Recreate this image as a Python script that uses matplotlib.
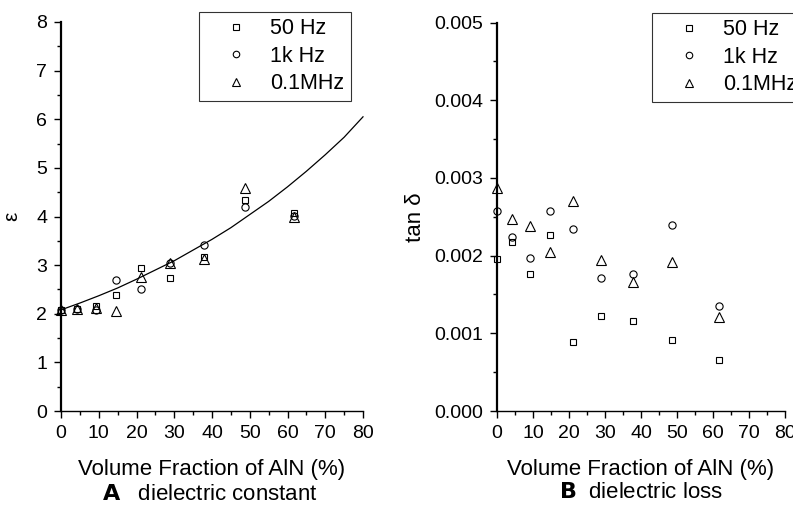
import matplotlib
matplotlib.use("Agg")
import matplotlib.pyplot as plt
from matplotlib.ticker import MultipleLocator, FormatStrFormatter

plt.rcParams['font.family'] = ['Liberation Sans', 'DejaVu Sans']

# Data
vol_frac = [0, 4.3, 9.3, 14.7, 21.2, 28.8, 37.8, 48.7, 61.7]
eps_50hz = [2.07, 2.10, 2.15, 2.39, 2.95, 2.74, 3.16, 4.34, 4.08]
eps_1khz = [2.07, 2.10, 2.07, 2.69, 2.51, 3.05, 3.41, 4.20, 4.01]
eps_01mhz = [2.07, 2.10, 2.12, 2.06, 2.76, 3.05, 3.13, 4.58, 3.98]

fit_x = [0, 5, 10, 15, 20, 25, 30, 35, 40, 45, 50, 55, 60, 65, 70, 75, 80]
fit_y = [2.08, 2.22, 2.37, 2.53, 2.71, 2.90, 3.09, 3.31, 3.53, 3.77, 4.04,
         4.31, 4.61, 4.93, 5.27, 5.63, 6.05]

tan_50hz = [0.00195, 0.00217, 0.00176, 0.00226, 0.00089, 0.00122, 0.00116, 0.00092, 0.00065]
tan_1khz = [0.00258, 0.00224, 0.00197, 0.00258, 0.00234, 0.00171, 0.00176, 0.00240, 0.00135]
tan_01mhz = [0.00287, 0.00247, 0.00238, 0.00205, 0.00270, 0.00194, 0.00166, 0.00192, 0.00121]

labels = ['50 Hz', '1k Hz', '0.1MHz']
markers = ['s', 'o', '^']

W, H = 793, 508
fig = plt.figure(figsize=(W / 100, H / 100), dpi=100)

def px_axes(x0, x1, ytop, ybot):
    return fig.add_axes([x0 / W, 1 - ybot / H, (x1 - x0) / W, (ybot - ytop) / H])

axA = px_axes(61, 363, 22, 411)
axB = px_axes(497, 785, 22.5, 411)

msize = {'s': 5.0, 'o': 5.2, '^': 6.5}

def style(ax, lpad):
    for s in ['top', 'right']:
        ax.spines[s].set_visible(False)
    ax.spines['left'].set_linewidth(1.6)
    ax.spines['bottom'].set_linewidth(1.0)
    ax.tick_params(which='major', direction='out', length=5, width=1.0, labelsize=14, pad=5)
    ax.tick_params(which='minor', direction='out', length=3, width=1.0)
    ax.set_xlim(0, 80)
    ax.xaxis.set_major_locator(MultipleLocator(10))
    ax.xaxis.set_minor_locator(MultipleLocator(5))
    ax.set_xlabel('Volume Fraction of AlN (%)', fontsize=16, labelpad=lpad)

for ys, lab, m in zip([eps_50hz, eps_1khz, eps_01mhz], labels, markers):
    axA.plot(vol_frac, ys, linestyle='none', marker=m, markersize=msize[m],
             markerfacecolor='none', markeredgecolor='black', markeredgewidth=0.8,
             label=lab, clip_on=False)
axA.plot(fit_x, fit_y, color='black', linewidth=0.9, clip_on=False)
style(axA, 12)
axA.set_ylim(0, 8)
axA.yaxis.set_major_locator(MultipleLocator(1))
axA.yaxis.set_minor_locator(MultipleLocator(0.5))
axA.set_ylabel('ε', fontsize=15, labelpad=11)

for ys, lab, m in zip([tan_50hz, tan_1khz, tan_01mhz], labels, markers):
    axB.plot(vol_frac, ys, linestyle='none', marker=m, markersize=msize[m],
             markerfacecolor='none', markeredgecolor='black', markeredgewidth=0.8,
             label=lab, clip_on=False)
style(axB, 12)
axB.set_ylim(0, 0.005)
axB.yaxis.set_major_locator(MultipleLocator(0.001))
axB.yaxis.set_minor_locator(MultipleLocator(0.0005))
axB.yaxis.set_major_formatter(FormatStrFormatter('%.3f'))
axB.set_ylabel('tan δ', fontsize=16, labelpad=6)

leg_kw = dict(fontsize=15.5, frameon=True, fancybox=False, edgecolor='black',
              handlelength=2.8, handletextpad=0.2, borderpad=0.3, labelspacing=0.3,
              borderaxespad=0, markerscale=0.9, loc='upper left')
legA = axA.legend(bbox_to_anchor=(199 / W, 1 - 12 / H), bbox_transform=fig.transFigure, **leg_kw)
legA.get_frame().set_linewidth(0.8)
legB = axB.legend(bbox_to_anchor=(652 / W, 1 - 13 / H), bbox_transform=fig.transFigure, **leg_kw)
legB.get_frame().set_linewidth(0.8)

fig.text(210 / W, 1 - 495 / H, r'$\bf{A}$   dielectric constant', ha='center', va='center', fontsize=16)
fig.text(641 / W, 1 - 492 / H, r'$\bf{B}$  dielectric loss', ha='center', va='center', fontsize=16)

fig.savefig('out.png', dpi=100)
